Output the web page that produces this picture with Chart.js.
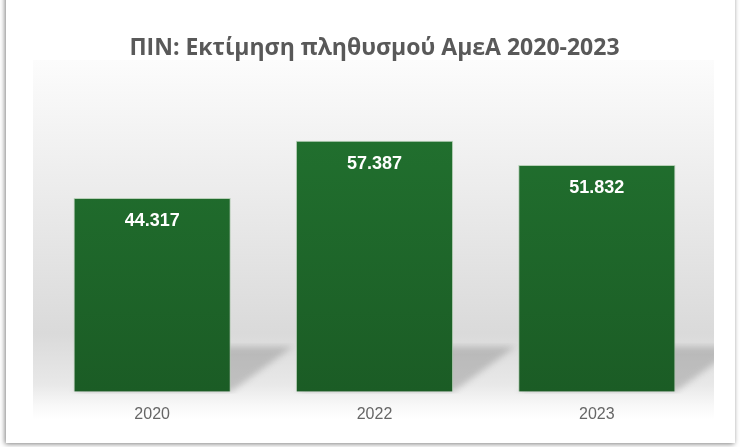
<!DOCTYPE html>
<html>
<head>
<meta charset="utf-8">
<script src="https://cdn.jsdelivr.net/npm/chart.js@4/dist/chart.umd.min.js"></script>
<style>
  html, body { margin: 0; padding: 0; background: #ffffff; }
  #wrap { width: 740px; height: 447px; }
</style>
</head>
<body>
<div id="wrap"><canvas id="amea"></canvas></div>
<script>
// Δεδομένα
const years = ['2020', '2022', '2023'];
const population = [44317, 57387, 51832];
const chartTitle = 'ΠΙΝ: Εκτίμηση πληθυσμού ΑμεΑ 2020-2023';

// μορφή 44.317
function fmt(v) {
    return String(v).replace(/\B(?=(\d{3})+(?!\d))/g, '.');
}

// πλαίσιο, φόντο και σκιές των στηλών
const backdrop = {
    id: 'backdrop',
    beforeDraw(chart) {
        const ctx = chart.ctx;
        const area = chart.chartArea;
        ctx.save();
        // εξωτερικό πλαίσιο με σκιά
        ctx.shadowColor = 'rgba(0,0,0,0.5)';
        ctx.shadowBlur = 5;
        ctx.shadowOffsetX = -1;
        ctx.shadowOffsetY = 1;
        ctx.fillStyle = '#ffffff';
        ctx.fillRect(6, -20, 729, 463);
        ctx.restore();

        // φόντο περιοχής γραφήματος
        ctx.save();
        const top = 60, bottom = 420, left = 33, right = 714;
        const g = ctx.createLinearGradient(0, top, 0, bottom);
        g.addColorStop(0, '#fcfcfc');
        g.addColorStop(0.2, '#f3f3f3');
        g.addColorStop(0.76, '#dadada');
        g.addColorStop(0.9, '#e8e8e8');
        g.addColorStop(0.96, '#f8f8f8');
        g.addColorStop(1, '#ffffff');
        ctx.fillStyle = g;
        ctx.fillRect(left, top, right - left, bottom - top);

        // σκιές στο «δάπεδο»
        const meta = chart.getDatasetMeta(0);
        const floorTop = area.bottom - 45;
        ctx.beginPath();
        ctx.rect(left, floorTop - 4, right - left, area.bottom - floorTop + 6);
        ctx.clip();
        ctx.filter = 'blur(3px)';
        ctx.fillStyle = 'rgba(100,100,100,0.3)';
        meta.data.forEach(bar => {
            const xl = bar.x - bar.width / 2;
            const xr = bar.x + bar.width / 2;
            const d = 62;
            ctx.beginPath();
            ctx.moveTo(xl, area.bottom);
            ctx.lineTo(xr, area.bottom);
            ctx.lineTo(xr + d, floorTop);
            ctx.lineTo(xl + d, floorTop);
            ctx.closePath();
            ctx.fill();
        });
        ctx.restore();
    }
};

// ετικέτες τιμών μέσα στις στήλες
const valueLabels = {
    id: 'valueLabels',
    afterDatasetsDraw(chart) {
        const ctx = chart.ctx;
        const meta = chart.getDatasetMeta(0);
        ctx.save();
        ctx.fillStyle = '#ffffff';
        ctx.font = 'bold 18px "Liberation Sans", Arial, sans-serif';
        ctx.textAlign = 'center';
        ctx.textBaseline = 'middle';
        meta.data.forEach((bar, i) => {
            ctx.fillText(fmt(population[i]), bar.x, bar.y + 23);
        });
        ctx.restore();
    }
};

const ctx = document.getElementById('amea').getContext('2d');

new Chart(ctx, {
    type: 'bar',
    data: {
        labels: years,
        datasets: [{
            data: population,
            backgroundColor: function(c) {
                const a = c.chart.chartArea;
                if (!a) return '#1e6a2a';
                const g = c.chart.ctx.createLinearGradient(0, a.top, 0, a.bottom);
                g.addColorStop(0, '#227330');
                g.addColorStop(1, '#1b5c25');
                return g;
            },
            borderColor: 'rgba(170,200,170,0.8)',
            borderWidth: 1,
            barPercentage: 0.707,
            categoryPercentage: 1
        }]
    },
    options: {
        responsive: true,
        maintainAspectRatio: false,
        animation: false,
        layout: {
            padding: { left: 41, right: 32, top: 0, bottom: 10 }
        },
        plugins: {
            legend: { display: false },
            tooltip: { enabled: false },
            title: {
                display: true,
                text: chartTitle,
                color: '#595959',
                font: { family: '"Open Sans", sans-serif', size: 23, weight: 'bold' },
                padding: { top: 35, bottom: 23 }
            }
        },
        scales: {
            y: {
                display: false,
                min: 0,
                max: 70000
            },
            x: {
                grid: { display: false, drawTicks: false },
                border: { display: false },
                ticks: {
                    color: '#666666',
                    padding: 13,
                    font: { family: '"Liberation Sans", Arial, sans-serif', size: 16 }
                }
            }
        }
    },
    plugins: [backdrop, valueLabels]
});
</script>
</body>
</html>
